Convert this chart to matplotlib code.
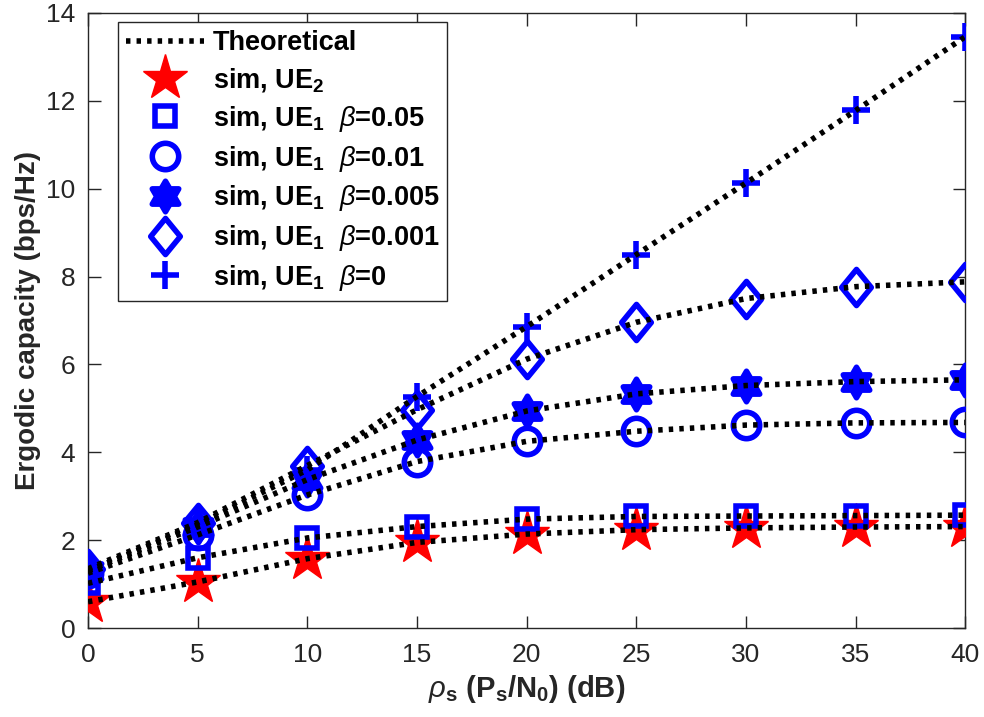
import numpy as np
import matplotlib.pyplot as plt
from matplotlib.path import Path

plt.rcParams['font.family'] = ['Liberation Sans', 'DejaVu Sans']
plt.rcParams['mathtext.fontset'] = 'custom'
plt.rcParams['mathtext.rm'] = 'Liberation Sans:bold'
plt.rcParams['mathtext.bf'] = 'Liberation Sans:bold'
plt.rcParams['mathtext.it'] = 'Liberation Sans:italic'

# data
snr_db = [0, 5, 10, 15, 20, 25, 30, 35, 40]
ue2 = [0.60, 1.05, 1.58, 1.95, 2.14, 2.24, 2.28, 2.30, 2.31]
ue1_b005 = [1.02, 1.60, 2.05, 2.31, 2.48, 2.54, 2.55, 2.56, 2.57]
ue1_b001 = [1.25, 2.12, 3.03, 3.79, 4.25, 4.48, 4.62, 4.67, 4.68]
ue1_b0005 = [1.30, 2.30, 3.38, 4.28, 4.94, 5.33, 5.52, 5.61, 5.65]
ue1_b0001 = [1.35, 2.40, 3.70, 4.97, 6.12, 6.96, 7.50, 7.77, 7.88]
ue1_b0 = [1.30, 2.35, 3.60, 5.27, 6.86, 8.50, 10.13, 11.78, 13.46]

# matlab style markers
hexagram = Path.unit_regular_star(6, innerCircle=0.577)
diamond = Path([(0, 1), (0.82, 0), (0, -1), (-0.82, 0), (0, 1)],
               [Path.MOVETO, Path.LINETO, Path.LINETO, Path.LINETO, Path.CLOSEPOLY])

fig = plt.figure(figsize=(9.84, 7.17), dpi=100)
ax = fig.add_axes([0.0894, 0.124, 0.8917, 0.858])

series = [
    (ue2, '*', 'red', 'red', 34, r'sim, UE$_\mathbf{2}$'),
    (ue1_b005, 's', 'blue', 'none', 15, r'sim, UE$_\mathbf{1}$  $\mathit{\beta}$=0.05'),
    (ue1_b001, 'o', 'blue', 'none', 19, r'sim, UE$_\mathbf{1}$  $\mathit{\beta}$=0.01'),
    (ue1_b0005, hexagram, 'blue', 'blue', 22, r'sim, UE$_\mathbf{1}$  $\mathit{\beta}$=0.005'),
    (ue1_b0001, diamond, 'blue', 'none', 26, r'sim, UE$_\mathbf{1}$  $\mathit{\beta}$=0.001'),
    (ue1_b0, '+', 'blue', 'blue', 20, r'sim, UE$_\mathbf{1}$  $\mathit{\beta}$=0'),
]

# theoretical curves
dots = (0, (0.8, 1.1))
ax.plot(snr_db, ue2, color='black', lw=4, linestyle=dots, zorder=4, label='Theoretical')
for vals, *_ in series[1:]:
    ax.plot(snr_db, vals, color='black', lw=4, linestyle=dots, zorder=4)

for vals, mk, ec, fc, ms, lab in series:
    mew = 1 if mk == '*' else 4
    ax.plot(snr_db, vals, linestyle='none', marker=mk, markersize=ms, mew=mew,
            markeredgecolor=ec, markerfacecolor=fc, label=lab, zorder=3)

ax.set_xlim(0, 40)
ax.set_ylim(0, 14)
ax.set_xticks(np.arange(0, 41, 5))
ax.set_yticks(np.arange(0, 15, 2))
ax.tick_params(direction='in', length=9, width=1, colors='#262626', labelsize=19,
               top=True, right=True)
ax.tick_params(axis='x', pad=11)
ax.tick_params(axis='y', pad=9)
for s in ax.spines.values():
    s.set_color('#262626')
    s.set_linewidth(1)

ax.set_xlabel(r'$\mathit{\rho}_\mathbf{s}$ (P$_\mathbf{s}$/N$_\mathbf{0}$) (dB)',
              fontsize=21, fontweight='bold', color='#262626', labelpad=4)
ax.set_ylabel('Ergodic capacity (bps/Hz)', fontsize=20, fontweight='bold',
              color='#262626', labelpad=4)

leg = ax.legend(loc='upper left', bbox_to_anchor=(0.034, 0.985), borderaxespad=0,
                fancybox=False, edgecolor='#262626', framealpha=1,
                prop={'weight': 'bold', 'size': 19.5}, handlelength=2.9,
                handletextpad=0.3, labelspacing=0.36, borderpad=0.3)
leg.get_frame().set_linewidth(1)

plt.savefig('out.png', dpi=100)
